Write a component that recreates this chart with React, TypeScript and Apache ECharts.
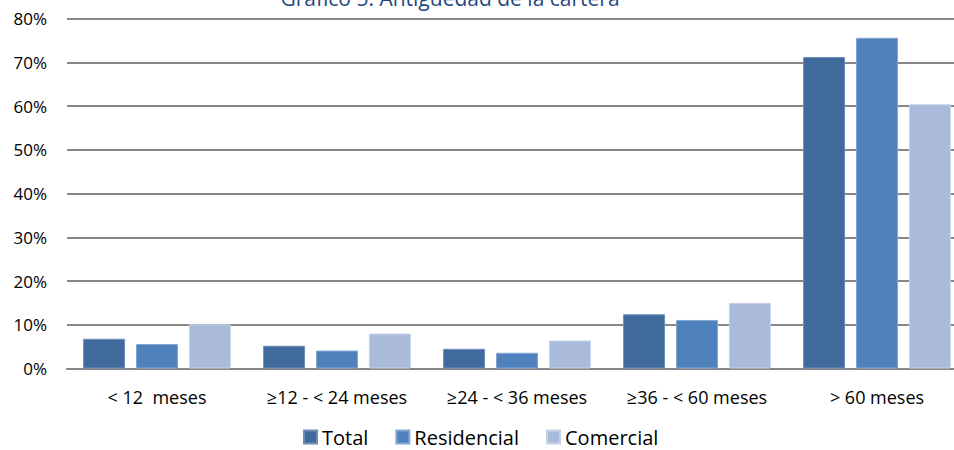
import React, { useEffect, useRef } from "react";
import * as echarts from "echarts";

// Portfolio age by bucket, share of total (%)
const categories = ["< 12  meses", "≥12 - < 24 meses", "≥24 - < 36 meses", "≥36 - < 60 meses", "> 60 meses"];
const seriesNames = ["Total", "Residencial", "Comercial"];
const totalValues = [6.8, 5.2, 4.5, 12.4, 71.2];
const residencialValues = [5.6, 4.1, 3.6, 11.1, 75.6];
const comercialValues = [10.1, 8.0, 6.4, 15.0, 60.4];
const yTicks = [0, 10, 20, 30, 40, 50, 60, 70, 80];
const titleText = "Gráfico 5: Antigüedad de la cartera";

const colors = ["#416A9C", "#4F81BD", "#AABADA"];
const borderColors = ["#6E8FBA", "#86A6D2", "#C6D2E8"];
const FONT = "'Open Sans', 'Noto Sans', sans-serif";

export default function App() {
  const ref = useRef<HTMLDivElement>(null);

  useEffect(() => {
    if (!ref.current) return;
    const chart = echarts.init(ref.current, undefined, { renderer: "svg" });
    const data = [totalValues, residencialValues, comercialValues];
    chart.setOption({
      animation: false,
      backgroundColor: "#ffffff",
      graphic: [
        {
          type: "text",
          x: 450,
          y: 8,
          style: {
            text: titleText,
            font: `21px ${FONT}`,
            fill: "#1F497D",
            textAlign: "center",
            textVerticalAlign: "bottom",
          },
        },
      ],
      legend: {
        data: seriesNames,
        left: 298,
        top: 422,
        itemWidth: 13,
        itemHeight: 13,
        itemGap: 27,
        icon: "rect",
        textStyle: { fontFamily: FONT, fontSize: 20, color: "#000" },
      },
      // plot area runs past the right edge of the canvas
      grid: {
        left: 67,
        right: -13,
        top: 18.5,
        bottom: 81.5,
        containLabel: false,
        outerBoundsMode: "none",
      },
      xAxis: {
        type: "category",
        data: categories,
        axisTick: { show: false },
        axisLine: { show: true, lineStyle: { color: "#878787", width: 2 } },
        axisLabel: { fontFamily: FONT, fontSize: 18, color: "#000", margin: 19, interval: 0 },
      },
      yAxis: {
        type: "value",
        min: yTicks[0],
        max: yTicks[yTicks.length - 1],
        interval: 10,
        axisLine: { show: false },
        axisTick: { show: false },
        splitLine: { lineStyle: { color: "#878787", width: 2 } },
        axisLabel: {
          fontFamily: FONT,
          fontSize: 17,
          color: "#000",
          margin: 20,
          formatter: (v: number) => `${v}%`,
        },
      },
      series: seriesNames.map((name, i) => ({
        name,
        type: "bar",
        data: data[i],
        barWidth: 42,
        barGap: "26%",
        itemStyle: { color: colors[i], borderColor: borderColors[i], borderWidth: 1 },
      })),
    });
    return () => chart.dispose();
  }, []);

  return (
    <div
      ref={ref}
      style={{ position: "absolute", left: 0, top: 0, width: 954, height: 450, overflow: "hidden" }}
    />
  );
}
